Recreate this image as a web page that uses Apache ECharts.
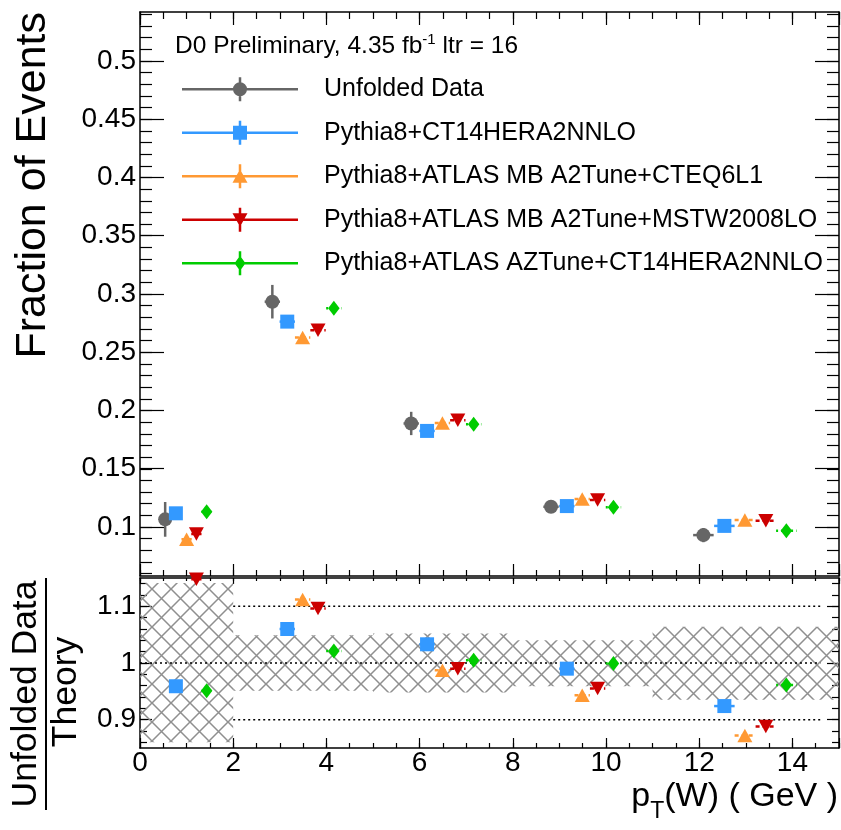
<!DOCTYPE html>
<html>
<head>
<meta charset="utf-8">
<script src="https://cdn.jsdelivr.net/npm/echarts@6/dist/echarts.min.js"></script>
<style>
  html, body { margin: 0; padding: 0; background: #fff; }
  #chart { width: 841px; height: 830px; }
</style>
</head>
<body>
<div id="chart"></div>
<script>
// pT(W) bins [GeV]
const binLo = [0, 2, 5, 8, 11];
const binHi = [2, 5, 8, 11, 15];
// data uncertainty band drawn in the ratio pad
const bandLo = [0.860, 0.951, 0.948, 0.959, 0.935];
const bandHi = [1.141, 1.049, 1.052, 1.040, 1.064];
// horizontal half width of the error bars
const xHalf = [0.11, 0.165, 0.165, 0.165, 0.22];

// unfolded data
const xData = [0.54, 2.84, 5.82, 8.82, 12.09];
const yData = [0.1066, 0.2934, 0.1889, 0.1174, 0.0931];
const eData = [0.0149, 0.0144, 0.0100, 0.0048, 0.0061];

// Pythia8+CT14HERA2NNLO
const xCT14 = [0.77, 3.16, 6.16, 9.16, 12.54];
const yCT14 = [0.1118, 0.2763, 0.1825, 0.1180, 0.1010];
const rCT14 = [0.959, 1.060, 1.033, 0.990, 0.924];

// Pythia8+ATLAS MB A2Tune+CTEQ6L1
const xA2C = [1.00, 3.49, 6.49, 9.49, 12.98];
const yA2C = [0.0895, 0.2626, 0.1894, 0.1240, 0.1060];
const rA2C = [null, 1.112, 0.987, 0.943, 0.872];

// Pythia8+ATLAS MB A2Tune+MSTW2008LO
const xA2M = [1.21, 3.82, 6.82, 9.82, 13.43];
const yA2M = [0.0940, 0.2689, 0.1917, 0.1232, 0.1054];
const rA2M = [1.148, 1.096, 0.990, 0.955, 0.888];

// Pythia8+ATLAS AZTune+CT14HERA2NNLO
const xAZ = [1.43, 4.16, 7.16, 10.16, 13.87];
const yAZ = [0.1131, 0.2877, 0.1883, 0.1169, 0.0968];
const rAZ = [0.951, 1.021, 1.005, 0.999, 0.961];

// dotted reference lines in the ratio pad
const refLevel = [0.9, 1.0, 1.1];
const refFrom = [2, 0, 2];
const refTo = [14.6, 14.6, 14.6];

const FONT = 'Liberation Sans';

// legend icons: line + vertical bar + marker, in a 116x24 box
const H_LINE = 'M0 10.75H116V13.25H0Z';
const V_LINE = 'M56.75 0H59.25V24H56.75Z';
const ICON = {
  circle: 'path://' + H_LINE + V_LINE + 'M51 12A7 7 0 1 1 65 12A7 7 0 1 1 51 12Z',
  square: 'path://' + H_LINE + V_LINE + 'M51 5H65V19H51Z',
  tri: 'path://' + H_LINE + V_LINE + 'M50.5 18.5L58 5L65.5 18.5Z',
  triDown: 'path://' + H_LINE + V_LINE + 'M50.5 5.5H65.5L58 19Z',
  diamond: 'path://' + H_LINE + V_LINE + 'M58 4.5L63.5 12L58 19.5L52.5 12Z'
};

const sets = [
  {name: 'Unfolded Data', color: '#666666', symbol: 'circle', size: 14, rot: 0, dash: null,
   x: xData, y: yData, ey: eData, r: null, icon: ICON.circle},
  {name: 'Pythia8+CT14HERA2NNLO', color: '#3399ff', symbol: 'rect', size: 14, rot: 0, dash: null,
   x: xCT14, y: yCT14, ey: null, r: rCT14, icon: ICON.square},
  {name: 'Pythia8+ATLAS MB A2Tune+CTEQ6L1', color: '#ff9933', symbol: 'triangle', size: [15, 13.5], rot: 0, dash: [4, 3],
   x: xA2C, y: yA2C, ey: null, r: rA2C, icon: ICON.tri},
  {name: 'Pythia8+ATLAS MB A2Tune+MSTW2008LO', color: '#cc0000', symbol: 'triangle', size: [15, 13.5], rot: 180, dash: [4, 3],
   x: xA2M, y: yA2M, ey: null, r: rA2M, icon: ICON.triDown},
  {name: 'Pythia8+ATLAS AZTune+CT14HERA2NNLO', color: '#00cc00', symbol: 'diamond', size: [11.5, 15], rot: 0, dash: [2, 3],
   x: xAZ, y: yAZ, ey: null, r: rAZ, icon: ICON.diamond}
];

// hatch pattern for the band
const TILE = 19;
const hatch = document.createElement('canvas');
hatch.width = TILE; hatch.height = TILE;
const hc = hatch.getContext('2d');
hc.strokeStyle = '#8f8f8f';
hc.lineWidth = 1.5;
hc.beginPath();
hc.moveTo(-2, -2); hc.lineTo(TILE + 2, TILE + 2);
hc.moveTo(TILE + 2, -2); hc.lineTo(-2, TILE + 2);
hc.stroke();

function errBar(dash) {
  return function (params, api) {
    const x = api.value(0), y = api.value(1), ex = api.value(2), ey = api.value(3);
    const col = api.visual('color');
    const kids = [];
    const a = api.coord([x - ex, y]), b = api.coord([x + ex, y]);
    kids.push({type: 'line', shape: {x1: a[0], y1: a[1], x2: b[0], y2: b[1]},
      style: {stroke: col, lineWidth: 2.5, lineDash: dash}});
    if (ey > 0) {
      const c = api.coord([x, y - ey]), d = api.coord([x, y + ey]);
      kids.push({type: 'line', shape: {x1: c[0], y1: c[1], x2: d[0], y2: d[1]},
        style: {stroke: col, lineWidth: 2.5}});
    }
    return {type: 'group', children: kids};
  };
}

function bandItem(params, api) {
  const p0 = api.coord([api.value(0), api.value(3)]);
  const p1 = api.coord([api.value(1), api.value(2)]);
  return {type: 'rect', shape: {x: p0[0], y: p0[1], width: p1[0] - p0[0], height: p1[1] - p0[1]},
    style: {fill: {image: hatch, repeat: 'repeat'}}};
}

const black = {color: '#000', width: 1.5};

function xAx(grid, pos, step, len, line, label) {
  return {
    type: 'value', gridIndex: grid, position: pos, min: 0, max: 15, interval: step,
    axisLine: {show: line, onZero: false, lineStyle: black},
    axisTick: {show: len > 0, inside: true, length: len, lineStyle: {color: '#000', width: 1.2}},
    axisLabel: label ? {
      show: true, fontSize: 28, fontFamily: FONT, color: '#000', margin: 1,
      formatter: v => (v > 14.5 ? '' : String(v))
    } : {show: false},
    splitLine: {show: false}
  };
}

function yAx(grid, pos, min, max, step, len, line, label) {
  return {
    type: 'value', gridIndex: grid, position: pos, min: min, max: max, interval: step,
    axisLine: {show: line, onZero: false, lineStyle: black},
    axisTick: {show: len > 0, inside: true, length: len, lineStyle: {color: '#000', width: 1.2}},
    axisLabel: label ? {show: true, fontSize: 28, fontFamily: FONT, color: '#000', margin: 4} : {show: false},
    splitLine: {show: false}
  };
}

function hiddenX(grid) {
  return {type: 'value', gridIndex: grid, min: 0, max: 1, show: false};
}

const G = {left: 140, right: 2, outerBoundsMode: 'none'};

const series = [];

// ratio pad: band and dotted lines
series.push({
  type: 'custom', name: 'band', xAxisIndex: 6, yAxisIndex: 6, silent: true, z: 1,
  renderItem: bandItem, encode: {x: [0, 1], y: [2, 3]},
  data: binLo.map((v, i) => [v, binHi[i], bandLo[i], bandHi[i]])
});
refLevel.forEach((lvl, i) => {
  series.push({
    type: 'line', name: 'ref' + i, xAxisIndex: 6, yAxisIndex: 6, silent: true, z: 2,
    showSymbol: false, symbol: 'none',
    lineStyle: {color: '#000', width: 1.5, type: [2, 3]},
    data: [[refFrom[i], lvl], [refTo[i], lvl]]
  });
});

// markers first so the legend takes its colour from them
sets.forEach(s => {
  series.push({
    type: 'scatter', name: s.name, xAxisIndex: 0, yAxisIndex: 0, silent: true, z: 5, clip: false,
    symbol: s.symbol, symbolSize: s.size, symbolRotate: s.rot,
    itemStyle: {color: s.color, opacity: 1},
    data: s.x.map((v, i) => [v, s.y[i]])
  });
});
sets.forEach(s => {
  series.push({
    type: 'custom', name: s.name + ' err', xAxisIndex: 0, yAxisIndex: 0, silent: true, z: 4,
    renderItem: errBar(s.dash), itemStyle: {color: s.color}, encode: {x: 0, y: 1},
    data: s.x.map((v, i) => [v, s.y[i], xHalf[i], s.ey ? s.ey[i] : 0])
  });
  if (!s.r) return;
  const keep = s.x.map((v, i) => i).filter(i => s.r[i] != null);
  series.push({
    type: 'custom', name: s.name + ' ratio err', xAxisIndex: 6, yAxisIndex: 6, silent: true, z: 4,
    renderItem: errBar(s.dash), itemStyle: {color: s.color}, encode: {x: 0, y: 1},
    data: keep.map(i => [s.x[i], s.r[i], xHalf[i], 0])
  });
  series.push({
    type: 'scatter', name: s.name, xAxisIndex: 6, yAxisIndex: 6, silent: true, z: 5, clip: false,
    symbol: s.symbol, symbolSize: s.size, symbolRotate: s.rot,
    itemStyle: {color: s.color, opacity: 1},
    data: keep.map(i => [s.x[i], s.r[i]])
  });
});

const chart = echarts.init(document.getElementById('chart'), null, {renderer: 'canvas'});
chart.setOption({
  animation: false,
  backgroundColor: '#fff',
  textStyle: {fontFamily: FONT},
  grid: [
    Object.assign({top: 12, height: 564}, G),        // 0 top pad
    Object.assign({top: 60.9, height: 466.1}, G),    // 1 top pad major y ticks (0.1 .. 0.5)
    Object.assign({top: 14.33, height: 559.3}, G),   // 2 top pad minor y ticks (0.06 .. 0.54)
    Object.assign({top: 578, height: 170}, G),       // 3 ratio pad
    Object.assign({top: 606.3, height: 113.3}, G),   // 4 ratio major y ticks (0.9 .. 1.1)
    Object.assign({top: 583.67, height: 158.67}, G)  // 5 ratio minor y ticks (0.86 .. 1.14)
  ],
  xAxis: [
    xAx(0, 'bottom', 2, 12, true, false),
    xAx(0, 'bottom', 0.5, 6, false, false),
    xAx(0, 'top', 2, 13, true, false),
    xAx(0, 'top', 0.5, 7, false, false),
    hiddenX(1),
    hiddenX(2),
    xAx(3, 'bottom', 2, 10, true, true),
    xAx(3, 'bottom', 0.5, 5, false, false),
    xAx(3, 'top', 2, 6, true, false),
    xAx(3, 'top', 0.5, 3, false, false),
    hiddenX(4),
    hiddenX(5)
  ],
  yAxis: [
    yAx(0, 'left', 0.058, 0.542, undefined, 0, true, false),
    yAx(0, 'right', 0.058, 0.542, undefined, 0, true, false),
    yAx(1, 'left', 0.1, 0.5, 0.05, 24, false, true),
    yAx(1, 'right', 0.1, 0.5, 0.05, 24, false, false),
    yAx(2, 'left', 0.06, 0.54, 0.01, 12, false, false),
    yAx(2, 'right', 0.06, 0.54, 0.01, 12, false, false),
    yAx(3, 'left', 0.85, 1.15, undefined, 0, true, false),
    yAx(3, 'right', 0.85, 1.15, undefined, 0, true, false),
    yAx(4, 'left', 0.9, 1.1, 0.1, 12, false, true),
    yAx(4, 'right', 0.9, 1.1, 0.1, 12, false, false),
    yAx(5, 'left', 0.86, 1.14, 0.02, 7, false, false),
    yAx(5, 'right', 0.86, 1.14, 0.02, 7, false, false)
  ],
  legend: {
    orient: 'vertical', left: 182, top: 76.7, padding: 0,
    itemWidth: 116, itemHeight: 24, itemGap: 18.5,
    symbolKeepAspect: false, selectedMode: false,
    itemStyle: {opacity: 1},
    textStyle: {fontFamily: FONT, fontSize: 25, color: '#000', lineHeight: 24, padding: [0, 0, 0, 21]},
    data: sets.map(s => ({name: s.name, icon: s.icon}))
  },
  graphic: [
    {type: 'text', x: 175, y: 46, silent: true, style: {
      text: '{m|D0 Preliminary, 4.35 fb}{s|-1}{m| ltr = 16}',
      align: 'left', verticalAlign: 'middle',
      rich: {
        m: {fontSize: 24.5, fontFamily: FONT, lineHeight: 28, fill: '#000'},
        s: {fontSize: 15, fontFamily: FONT, lineHeight: 15, fill: '#000', verticalAlign: 'top'}
      }
    }},
    {type: 'text', x: 33, y: 12, rotation: Math.PI / 2, silent: true, style: {
      text: 'Fraction of Events', font: '43px "Liberation Sans"', fill: '#000',
      align: 'right', verticalAlign: 'middle'
    }},
    {type: 'text', x: 26, y: 694, rotation: Math.PI / 2, silent: true, style: {
      text: 'Unfolded Data', font: '35.5px "Liberation Sans"', fill: '#000',
      align: 'center', verticalAlign: 'middle'
    }},
    {type: 'line', silent: true, shape: {x1: 46, y1: 578, x2: 46, y2: 810},
      style: {stroke: '#000', lineWidth: 2}},
    {type: 'text', x: 66, y: 692, rotation: Math.PI / 2, silent: true, style: {
      text: 'Theory', font: '35.5px "Liberation Sans"', fill: '#000',
      align: 'center', verticalAlign: 'middle'
    }},
    {type: 'text', x: 838, y: 797, silent: true, style: {
      text: '{m|p}{s|T}{m|(W) ( GeV )}',
      align: 'right', verticalAlign: 'middle',
      rich: {
        m: {fontSize: 34, fontFamily: FONT, lineHeight: 52, fill: '#000'},
        s: {fontSize: 23, fontFamily: FONT, lineHeight: 23, fill: '#000', verticalAlign: 'bottom'}
      }
    }}
  ],
  series: series
});
</script>
</body>
</html>
